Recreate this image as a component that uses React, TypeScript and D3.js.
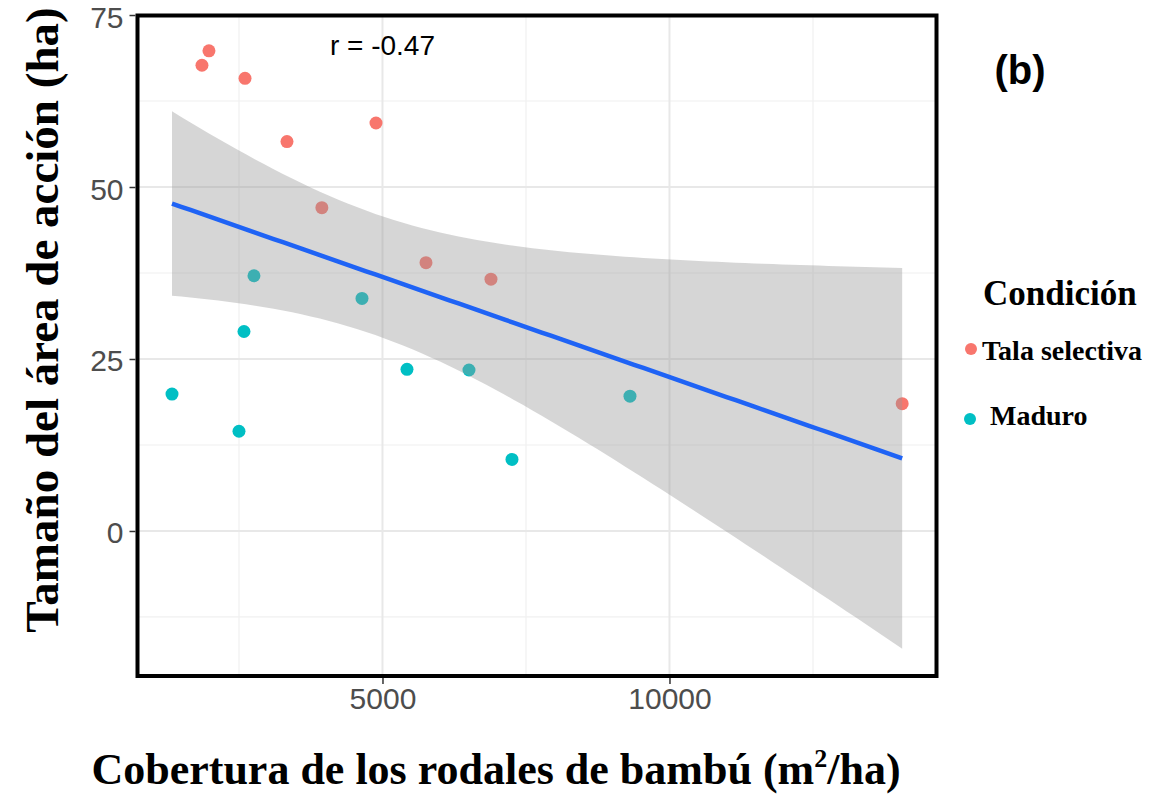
import React, { useEffect, useRef } from 'react';
import * as d3 from 'd3';

// Tala selectiva
const talaX = [1977, 1855, 2605, 3336, 4887, 3944, 5758, 6890, 14054];
const talaY = [69.8, 67.7, 65.8, 56.6, 59.3, 47.0, 39.0, 36.6, 18.5];
// Maduro
const maduroX = [1333, 2500, 2587, 2761, 4643, 5427, 6507, 7256, 9312];
const maduroY = [19.9, 14.5, 29.0, 37.1, 33.8, 23.5, 23.4, 10.4, 19.6];

const xTicks = [5000, 10000];
const xMinor = [2500, 7500, 12500];
const yTicks = [0, 25, 50, 75];
const yMinor = [-12.5, 12.5, 37.5, 62.5];

const groups = [
  { name: 'Tala selectiva', color: '#F8766D', xs: talaX, ys: talaY },
  { name: 'Maduro', color: '#00BFC4', xs: maduroX, ys: maduroY },
];

const T_975_16 = 2.1199; // t quantile, df = n - 2

export default function App() {
  const svgRef = useRef<SVGSVGElement>(null);

  useEffect(() => {
    const W = 1154, H = 794;
    const left = 137.5, right = 936.5, top = 15.5, bottom = 676;
    const svg = d3.select(svgRef.current).attr('width', W).attr('height', H);
    svg.selectAll('*').remove();

    const x = d3.scaleLinear().domain([732, 14652]).range([left, right]);
    const y = d3.scaleLinear().domain([-21.08, 74.93]).range([bottom, top]);

    svg.append('rect').attr('width', W).attr('height', H).attr('fill', '#fff');

    // Grid
    const grid = svg.append('g');
    xMinor.forEach(v => grid.append('line').attr('x1', x(v)).attr('x2', x(v)).attr('y1', top).attr('y2', bottom)
      .attr('stroke', '#f0f0f0').attr('stroke-width', 1.2));
    yMinor.forEach(v => grid.append('line').attr('x1', left).attr('x2', right).attr('y1', y(v)).attr('y2', y(v))
      .attr('stroke', '#f0f0f0').attr('stroke-width', 1.2));
    xTicks.forEach(v => grid.append('line').attr('x1', x(v)).attr('x2', x(v)).attr('y1', top).attr('y2', bottom)
      .attr('stroke', '#e8e8e8').attr('stroke-width', 2));
    yTicks.forEach(v => grid.append('line').attr('x1', left).attr('x2', right).attr('y1', y(v)).attr('y2', y(v))
      .attr('stroke', '#e8e8e8').attr('stroke-width', 2));

    // Points
    groups.forEach(g => {
      svg.append('g').selectAll('circle').data(g.xs.map((v, i) => [v, g.ys[i]])).join('circle')
        .attr('cx', d => x(d[0])).attr('cy', d => y(d[1])).attr('r', 6.5).attr('fill', g.color);
    });

    // Linear fit with 95% CI (lm)
    const allX = [...talaX, ...maduroX];
    const allY = [...talaY, ...maduroY];
    const n = allX.length;
    const mx = d3.mean(allX)!, my = d3.mean(allY)!;
    const sxx = d3.sum(allX, v => (v - mx) ** 2);
    const sxy = d3.sum(allX, (v, i) => (v - mx) * (allY[i] - my));
    const b = sxy / sxx, a = my - b * mx;
    const s = Math.sqrt(d3.sum(allX, (v, i) => (allY[i] - a - b * v) ** 2) / (n - 2));
    const [x0, x1] = d3.extent(allX) as [number, number];
    const fit = d3.range(80).map(i => {
      const xv = x0 + (x1 - x0) * i / 79;
      const yv = a + b * xv;
      const h = T_975_16 * s * Math.sqrt(1 / n + (xv - mx) ** 2 / sxx);
      return { xv, yv, lo: yv - h, hi: yv + h };
    });
    svg.append('path').datum(fit).attr('fill', '#999999').attr('fill-opacity', 0.4)
      .attr('d', d3.area<any>().x(d => x(d.xv)).y0(d => y(d.lo)).y1(d => y(d.hi)));
    svg.append('path').datum(fit).attr('fill', 'none').attr('stroke', '#1F63F5').attr('stroke-width', 4.5)
      .attr('d', d3.line<any>().x(d => x(d.xv)).y(d => y(d.yv)));

    // Panel border
    svg.append('rect').attr('x', left).attr('y', top).attr('width', right - left).attr('height', bottom - top)
      .attr('fill', 'none').attr('stroke', '#000').attr('stroke-width', 4);

    // Axes
    const axisFont = '"Liberation Sans", Arial, sans-serif';
    const yAxis = svg.append('g').attr('transform', `translate(${left - 2},0)`)
      .call(d3.axisLeft(y).tickValues(yTicks).tickSize(6).tickPadding(6));
    const xAxis = svg.append('g').attr('transform', `translate(0,${bottom + 2})`)
      .call(d3.axisBottom(x).tickValues(xTicks).tickFormat(d3.format('d')).tickSize(6).tickPadding(4));
    [yAxis, xAxis].forEach(ax => {
      ax.select('.domain').remove();
      ax.selectAll('line').attr('stroke', '#333').attr('stroke-width', 1.5);
      ax.selectAll('text').attr('fill', '#4D4D4D').attr('font-size', 30).attr('font-family', axisFont);
    });
    yAxis.selectAll('text').attr('dy', '0.4em');

    // Correlation note
    svg.append('text').attr('x', x(5000)).attr('y', y(69.2)).attr('text-anchor', 'middle')
      .attr('font-family', axisFont).attr('font-size', 28).attr('fill', '#000').text('r = -0.47');

    svg.append('text').attr('x', 1020).attr('y', 84).attr('text-anchor', 'middle')
      .attr('font-family', axisFont).attr('font-weight', 'bold').attr('font-size', 40).attr('fill', '#000').text('(b)');

    // Axis titles
    const serif = '"Liberation Serif", "Times New Roman", serif';
    svg.append('text').attr('x', 496).attr('y', 784).attr('text-anchor', 'middle')
      .attr('font-family', serif).attr('font-weight', 'bold').attr('font-size', 44).attr('fill', '#000')
      .html('Cobertura de los rodales de bambú (m<tspan font-size="26" dy="-17">2</tspan><tspan dy="17">/ha)</tspan>');
    svg.append('text').attr('transform', 'translate(58,320) rotate(-90)').attr('text-anchor', 'middle')
      .attr('font-family', serif).attr('font-weight', 'bold').attr('font-size', 47).attr('fill', '#000')
      .text('Tamaño del área de acción (ha)');

    // Legend
    svg.append('text').attr('x', 983).attr('y', 305).attr('font-family', serif).attr('font-weight', 'bold')
      .attr('font-size', 35).attr('fill', '#000').text('Condición');
    const leg = [
      { dx: 971, dy: 349, tx: 982, ty: 360 },
      { dx: 970, dy: 419, tx: 990, ty: 425 },
    ];
    groups.forEach((g, i) => {
      svg.append('circle').attr('cx', leg[i].dx).attr('cy', leg[i].dy).attr('r', 6).attr('fill', g.color);
      svg.append('text').attr('x', leg[i].tx).attr('y', leg[i].ty).attr('font-family', serif).attr('font-weight', 'bold')
        .attr('font-size', 28).attr('fill', '#000').text(g.name);
    });
  }, []);

  return (
    <div style={{ position: 'absolute', left: 0, top: 0 }}>
      <svg ref={svgRef} style={{ display: 'block' }} />
    </div>
  );
}
